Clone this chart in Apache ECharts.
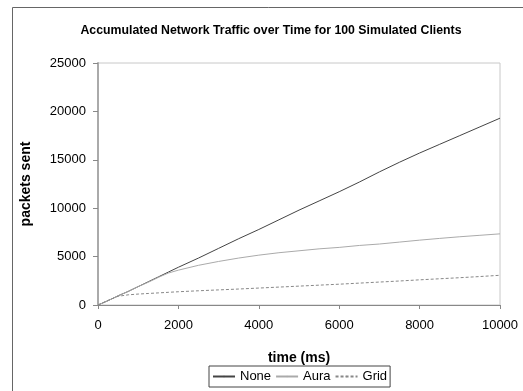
<!DOCTYPE html>
<html>
<head>
<meta charset="utf-8">
<script src="https://cdn.jsdelivr.net/npm/echarts@6/dist/echarts.min.js"></script>
<style>html,body{margin:0;padding:0;background:#fff}#c{width:523px;height:391px}</style>
</head>
<body>
<div id="c"></div>
<script>
const times = [0,250,500,750,1000,1250,1500,1750,2000,2500,3000,3500,4000,4500,5000,5500,6000,6500,7000,7500,8000,8500,9000,9500,10000];
const noneVals = [0,450,950,1400,1900,2400,2900,3400,3900,4850,5850,6850,7800,8800,9800,10750,11700,12700,13750,14750,15700,16600,17500,18400,19300];
const auraVals = [0,450,950,1400,1900,2350,2850,3300,3600,4100,4500,4850,5150,5400,5600,5800,5950,6150,6300,6500,6700,6880,7050,7200,7350];
const gridVals = [0,480,900,1050,1130,1190,1250,1310,1370,1470,1560,1650,1750,1850,1950,2050,2150,2260,2370,2480,2600,2710,2820,2940,3070];
const xTicks = [0,2000,4000,6000,8000,10000];
const yTicks = [0,5000,10000,15000,20000,25000];

const pairs = v => times.map((t,i)=>[t,v[i]]);
const chart = echarts.init(document.getElementById('c'), null, {renderer:'canvas'});
const font = 'Liberation Sans, Arial, sans-serif';
chart.setOption({
  animation:false,
  backgroundColor:'#fff',
  title:{text:'Accumulated Network Traffic over Time for 100 Simulated Clients', left:266, textAlign:'center', top:20,
    textStyle:{fontFamily:font, fontSize:12.3, fontWeight:'bold', color:'#000'}},
  graphic:[{type:'rect', shape:{x:12.5,y:7.5,width:560,height:420}, style:{fill:'none', stroke:'#666', lineWidth:1}, silent:true}],
  grid:{left:98, right:23, top:63, bottom:86, show:true, borderColor:'#c8c8c8', borderWidth:1, backgroundColor:'transparent'},
  legend:{left:209, top:366, itemWidth:22, itemHeight:2, itemGap:4, padding:[4,3,4,3], borderColor:'#444', borderWidth:1,
    textStyle:{fontFamily:font, fontSize:13, color:'#000'}, data:['None','Aura','Grid']},
  xAxis:{type:'value', min:0, max:10000, interval:2000,
    name:'time (ms)', nameLocation:'middle', nameGap:46,
    nameTextStyle:{fontFamily:font, fontSize:14, fontWeight:'bold', color:'#000'},
    axisLine:{show:true, lineStyle:{color:'#888', width:1}},
    axisTick:{show:true, inside:false, length:4, lineStyle:{color:'#888'}},
    axisLabel:{fontFamily:font, fontSize:13, color:'#000', margin:14, formatter:v=>String(v)},
    splitLine:{show:false}},
  yAxis:{type:'value', min:0, max:25000, interval:5000,
    name:'packets sent', nameLocation:'middle', nameGap:65, nameRotate:90,
    nameTextStyle:{fontFamily:font, fontSize:14, fontWeight:'bold', color:'#000'},
    axisLine:{show:true, lineStyle:{color:'#aaa', width:2}},
    axisTick:{show:true, inside:false, length:5, lineStyle:{color:'#888'}},
    axisLabel:{fontFamily:font, fontSize:13, color:'#000', margin:12, formatter:v=>String(v)},
    splitLine:{show:false}},
  series:[
    {name:'None', type:'line', data:pairs(noneVals), showSymbol:false, symbol:'none', lineStyle:{color:'#444', width:1}, itemStyle:{color:'#444'}},
    {name:'Aura', type:'line', data:pairs(auraVals), showSymbol:false, symbol:'none', lineStyle:{color:'#aaa', width:1}, itemStyle:{color:'#aaa'}},
    {name:'Grid', type:'line', data:pairs(gridVals), showSymbol:false, symbol:'none', lineStyle:{color:'#888', width:1, type:[3,2]}, itemStyle:{color:'#888'}}
  ]
});
</script>
</body>
</html>
